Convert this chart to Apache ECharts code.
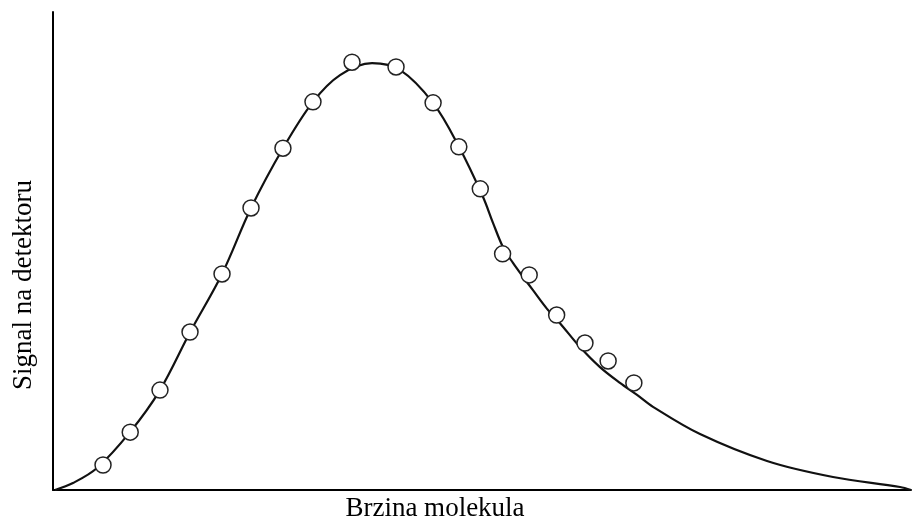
<!DOCTYPE html>
<html>
<head>
<meta charset="utf-8">
<script src="https://cdn.jsdelivr.net/npm/echarts@6/dist/echarts.min.js"></script>
<style>html,body{margin:0;padding:0;background:#fff;}#c{width:913px;height:523px;}</style>
</head>
<body>
<div id="c"></div>
<script>
// Axis titles
var xTitle = 'Brzina molekula';
var yTitle = 'Signal na detektoru';

// Fitted curve (relative units: speed 0-100, signal 0-100)
var curveX = [0.23, 2.33, 5.13, 8.97, 12.47, 15.97, 19.70, 23.08, 26.81, 30.30, 33.45, 37.18, 40.44, 44.29, 47.32, 50.12, 51.28, 52.45, 53.61, 54.78, 55.94, 57.58, 59.09, 61.42, 63.75, 66.08, 68.07, 69.93, 75.41, 83.22, 90.91, 98.72, 100];
var curveY = [0, 1.46, 4.6, 12.1, 20.9, 33.0, 45.2, 59.0, 71.5, 81.2, 86.8, 89.3, 87.9, 81.0, 71.8, 61.3, 55.9, 50.8, 47.5, 44.6, 41.8, 37.9, 34.9, 29.9, 25.7, 22.4, 19.9, 17.4, 11.7, 6.07, 2.72, 0.63, 0];

// Measured points
var pointX = [5.83, 9.0, 12.47, 15.97, 19.7, 23.08, 26.8, 30.3, 34.85, 39.98, 44.3, 47.3, 49.8, 52.4, 55.5, 58.7, 62.0, 64.7, 67.7];
var pointY = [5.23, 12.1, 20.9, 33.05, 45.2, 59.0, 71.5, 81.2, 89.5, 88.5, 81.0, 71.8, 63.0, 49.4, 45.0, 36.6, 30.75, 27.0, 22.4];

var curveData = curveX.map(function (x, i) { return [x, curveY[i]]; });
var pointData = pointX.map(function (x, i) { return [x, pointY[i]]; });

var chart = echarts.init(document.getElementById('c'), null, {renderer: 'canvas'});
chart.setOption({
  backgroundColor: '#fff',
  animation: false,
  grid: {left: 53, right: 2, top: 12, bottom: 33, containLabel: false},
  xAxis: {
    type: 'value', min: 0, max: 100,
    axisLine: {show: true, lineStyle: {color: '#000', width: 2}},
    axisTick: {show: false}, axisLabel: {show: false}, splitLine: {show: false}
  },
  yAxis: {
    type: 'value', min: 0, max: 100,
    axisLine: {show: true, lineStyle: {color: '#000', width: 2}},
    axisTick: {show: false}, axisLabel: {show: false}, splitLine: {show: false}
  },
  graphic: [
    {type: 'text', position: [435, 509],
     style: {text: xTitle, x: 0, y: 0, fill: '#000', font: '27px "Liberation Serif", "Times New Roman", serif', textAlign: 'center', textVerticalAlign: 'middle'}},
    {type: 'text', position: [24, 285], rotation: Math.PI / 2,
     style: {text: yTitle, x: 0, y: 0, fill: '#000', font: '27px "Liberation Serif", "Times New Roman", serif', textAlign: 'center', textVerticalAlign: 'middle'}}
  ],
  series: [
    {
      type: 'line', data: curveData, smooth: 0.35, showSymbol: false, symbol: 'none',
      lineStyle: {color: '#111', width: 2.2}, z: 2
    },
    {
      type: 'scatter', data: pointData, symbol: 'circle', symbolSize: 16,
      itemStyle: {color: '#fff', opacity: 1, borderColor: '#222', borderWidth: 1.5}, z: 3
    }
  ]
});
</script>
</body>
</html>
